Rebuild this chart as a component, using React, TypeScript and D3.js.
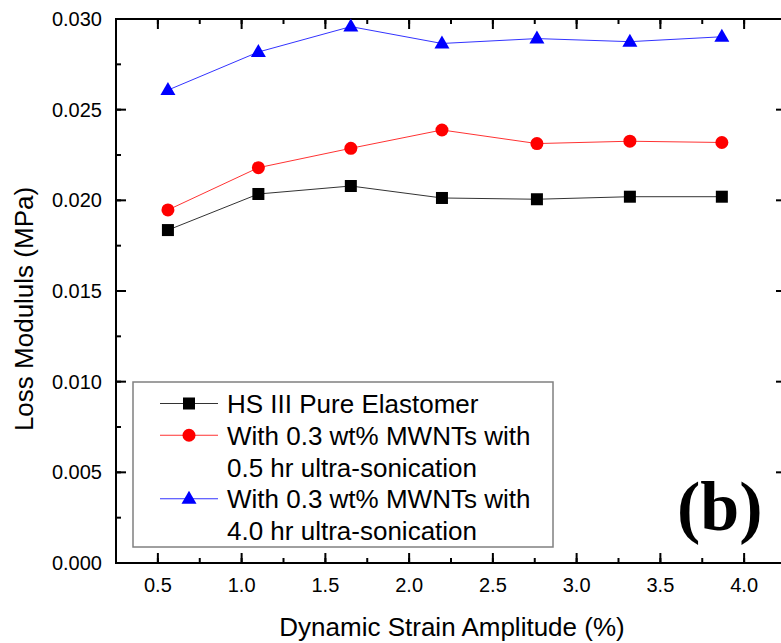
import React from "react";
import * as d3 from "d3";

const strain = [0.56, 1.1, 1.652, 2.196, 2.763, 3.318, 3.867];
const pureElastomer = [0.01836, 0.02035, 0.02079, 0.02013, 0.02006, 0.0202, 0.0202];
const mwnt05hr = [0.01947, 0.0218, 0.02287, 0.02388, 0.02313, 0.02326, 0.02319];
const mwnt40hr = [0.02608, 0.02818, 0.02958, 0.02865, 0.02892, 0.02875, 0.02902];
const xTicks = [0.5, 1.0, 1.5, 2.0, 2.5, 3.0, 3.5, 4.0];
const yTicks = [0, 0.005, 0.01, 0.015, 0.02, 0.025, 0.03];
const legendLines = [
  "HS III Pure Elastomer",
  "With 0.3 wt% MWNTs with",
  "0.5 hr ultra-sonication",
  "With 0.3 wt% MWNTs with",
  "4.0 hr ultra-sonication",
];

const W = 781;
const H = 643;
const left = 116, right = 786, top = 19, bottom = 563;
const FONT = "'Liberation Sans', Arial, sans-serif";

type Shape = "square" | "circle" | "triangle";

function Marker({ x, y, shape, color }: { x: number; y: number; shape: Shape; color: string }) {
  if (shape === "square") return <rect x={x - 6} y={y - 6} width={12} height={12} fill={color} />;
  if (shape === "circle") return <circle cx={x} cy={y} r={6.5} fill={color} />;
  const p = d3.path();
  p.moveTo(x, y - 8);
  p.lineTo(x + 7.5, y + 5);
  p.lineTo(x - 7.5, y + 5);
  p.closePath();
  return <path d={p.toString()} fill={color} />;
}

export default function App() {
  const x = d3.scaleLinear().domain([0.25, 4.25]).range([left, right]);
  const y = d3.scaleLinear().domain([0, 0.03]).range([bottom, top]);
  const series = [
    { values: pureElastomer, color: "#000000", line: "#333333", shape: "square" as Shape },
    { values: mwnt05hr, color: "#ff0000", line: "#ff3333", shape: "circle" as Shape },
    { values: mwnt40hr, color: "#0000ff", line: "#3333ff", shape: "triangle" as Shape },
  ];
  const line = d3.line<[number, number]>().x((d) => x(d[0])).y((d) => y(d[1]));
  const xMinor = d3.range(0.25, 4.26, 0.25);
  const yMinor = d3.range(0, 0.03001, 0.0025);

  const legendBaselines = [413, 444.75, 476.5, 508.25, 540];
  const legendMarkerRows = [
    { row: 0, s: series[0] },
    { row: 1, s: series[1] },
    { row: 3, s: series[2] },
  ];

  return (
    <svg width={W} height={H} style={{ position: "absolute", left: 0, top: 0, background: "#fff" }}>
      <rect x={0} y={0} width={W} height={H} fill="#ffffff" />
      {/* minor ticks */}
      {xMinor.map((v, i) => (
        <g key={"xm" + i} stroke="#000" strokeWidth={2}>
          <line x1={x(v)} x2={x(v)} y1={bottom} y2={bottom - 5} />
          <line x1={x(v)} x2={x(v)} y1={top} y2={top + 5} />
        </g>
      ))}
      {yMinor.map((v, i) => (
        <g key={"ym" + i} stroke="#000" strokeWidth={2}>
          <line x1={left} x2={left + 5} y1={y(v)} y2={y(v)} />
          <line x1={right} x2={right - 5} y1={y(v)} y2={y(v)} />
        </g>
      ))}
      {/* major ticks */}
      {xTicks.map((v, i) => (
        <g key={"xt" + i}>
          <line x1={x(v)} x2={x(v)} y1={bottom} y2={bottom - 10} stroke="#000" strokeWidth={2} />
          <line x1={x(v)} x2={x(v)} y1={top} y2={top + 10} stroke="#000" strokeWidth={2} />
          <text x={x(v)} y={592} textAnchor="middle" fontFamily={FONT} fontSize={20} fill="#000">
            {v.toFixed(1)}
          </text>
        </g>
      ))}
      {yTicks.map((v, i) => (
        <g key={"yt" + i}>
          <line x1={left} x2={left + 10} y1={y(v)} y2={y(v)} stroke="#000" strokeWidth={2} />
          <line x1={right} x2={right - 10} y1={y(v)} y2={y(v)} stroke="#000" strokeWidth={2} />
          <text x={102} y={y(v) + 7} textAnchor="end" fontFamily={FONT} fontSize={20} fill="#000">
            {v.toFixed(3)}
          </text>
        </g>
      ))}
      {/* frame */}
      <rect x={left} y={top} width={right - left} height={bottom - top} fill="none" stroke="#000" strokeWidth={2} />

      {/* series */}
      {series.map((s, si) => {
        const pts: [number, number][] = strain.map((v, i) => [v, s.values[i]]);
        return (
          <g key={"s" + si}>
            <path d={line(pts) || ""} fill="none" stroke={s.line} strokeWidth={1} />
            {pts.map((p, i) => (
              <Marker key={i} x={x(p[0])} y={y(p[1])} shape={s.shape} color={s.color} />
            ))}
          </g>
        );
      })}

      {/* legend */}
      <rect x={133} y={382} width={420} height={165} fill="#fff" stroke="#808080" strokeWidth={1.5} />
      {legendMarkerRows.map((r, i) => {
        const cy = legendBaselines[r.row] - 9.5;
        return (
          <g key={"lg" + i}>
            <line x1={160} x2={218} y1={cy} y2={cy} stroke={r.s.line} strokeWidth={1} />
            <Marker x={189} y={cy} shape={r.s.shape} color={r.s.color} />
          </g>
        );
      })}
      {legendLines.map((t, i) => (
        <text key={"lt" + i} x={227} y={legendBaselines[i]} fontFamily={FONT} fontSize={26} fill="#000">
          {t}
        </text>
      ))}

      {/* panel label */}
      <text x={677} y={530} fontFamily="'Liberation Serif', 'Times New Roman', serif" fontWeight="bold" fontSize={70} fill="#000">
        (b)
      </text>

      {/* axis titles */}
      <text x={452} y={636} textAnchor="middle" fontFamily={FONT} fontSize={26} fill="#000">
        Dynamic Strain Amplitude (%)
      </text>
      <text
        transform={`translate(33, 309) rotate(-90)`}
        textAnchor="middle"
        fontFamily={FONT}
        fontSize={26}
        fill="#000"
      >
        Loss Modululs (MPa)
      </text>
    </svg>
  );
}
